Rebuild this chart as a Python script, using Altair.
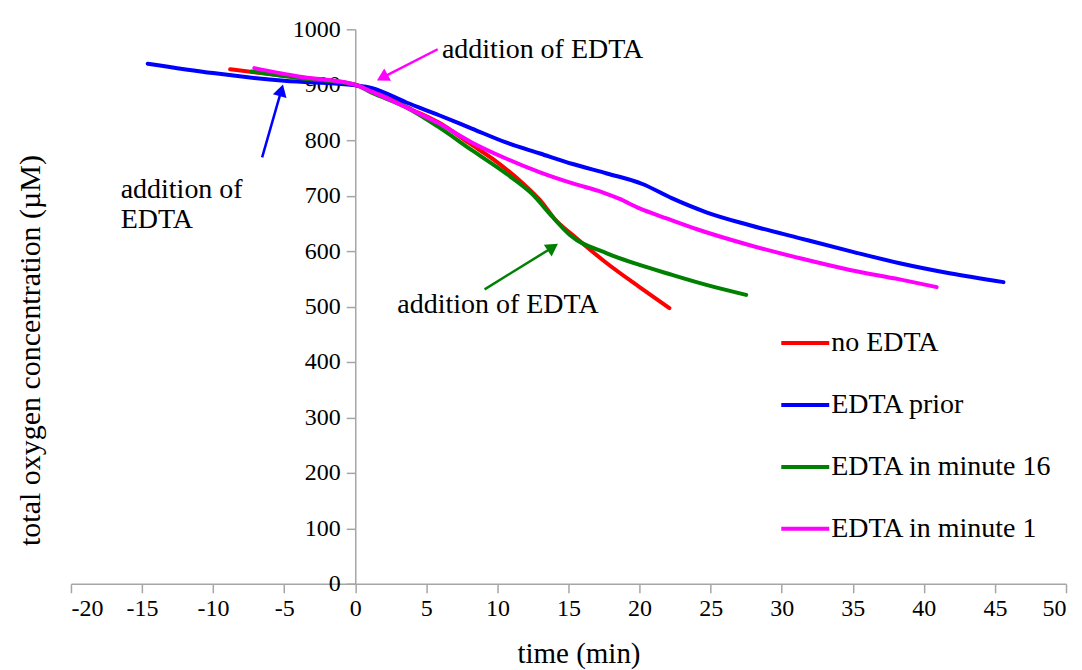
import altair as alt
import pandas as pd

# ---- data ----
series_names = ["no EDTA", "EDTA prior", "EDTA in minute 16", "EDTA in minute 1"]
series_colors = ["#FF0000", "#0000FF", "#008000", "#FF00FF"]

no_edta_x = [-8.8, -5, 0, 2, 4, 6, 8, 10, 11.8, 13, 14.1, 15.3, 17.7, 20, 22.1]
no_edta_y = [928, 916, 900, 879, 855, 830, 795, 760, 722, 692, 656, 629, 578, 535, 497]

prior_x = [-14.6, -10, -5, 0, 1.2, 3.6, 5.9, 8.2, 10.6, 13.0, 15.3, 17.7, 20.2, 22.3, 24.7,
           27.7, 31.3, 34.8, 38.3, 41.8, 45.6]
prior_y = [938, 921, 907, 899, 894, 868, 845, 821, 796, 776, 757, 740, 721, 695, 670,
           647, 623, 600, 578, 560, 544]

min16_x = [-7.3, -4, 0, 1.2, 3.6, 5.9, 8.2, 10.6, 12.4, 13.9, 15.1, 17.7, 20.0, 22.3, 24.7, 27.5]
min16_y = [924, 912, 900, 885, 859, 823, 782, 740, 704, 661, 629, 596, 575, 557, 539, 521]

min1_x = [-7.1, -4, 0, 1.2, 3.6, 5.9, 8.2, 10.6, 13.0, 15.3, 17.4, 18.6, 20.0, 21.9, 24.2,
          27.7, 31.3, 34.8, 38.3, 40.9]
min1_y = [930, 915, 900, 887, 859, 830, 796, 767, 742, 722, 706, 694, 677, 659, 638,
          611, 587, 566, 549, 535]

x_ticks = list(range(-20, 55, 5))
y_ticks = list(range(0, 1100, 100))

# annotation arrows (tail -> head, in data units)
arrow_x = [-6.55, 5.8, 9.1]
arrow_y = [769, 964, 531]
arrow_x2 = [-5.2, 1.9, 13.9]
arrow_y2 = [890, 913, 607]
arrow_angle = [15.6, 241.3, 56.3]
arrow_color = ["#0000FF", "#FF00FF", "#008000"]

note_text = ["addition of", "EDTA", "addition of EDTA", "addition of EDTA"]
note_x = [-16.5, -16.5, 6.1, 2.96]
note_y = [710, 656, 962, 503]

# ---- tables ----
rows = []
for name, xs, ys in [
    ("no EDTA", no_edta_x, no_edta_y),
    ("EDTA prior", prior_x, prior_y),
    ("EDTA in minute 16", min16_x, min16_y),
    ("EDTA in minute 1", min1_x, min1_y),
]:
    for i, (a, b) in enumerate(zip(xs, ys)):
        rows.append({"series": name, "t": a, "o2": b, "i": i})
lines_df = pd.DataFrame(rows)
arrows_df = pd.DataFrame({"x": arrow_x, "y": arrow_y, "x2": arrow_x2, "y2": arrow_y2,
                          "angle": arrow_angle, "color": arrow_color})
notes_df = pd.DataFrame({"text": note_text, "x": note_x, "y": note_y})

W, H = 996, 555
FONT = "Liberation Serif"

xscale = alt.Scale(domain=[-20, 50], nice=False, zero=False)
yscale = alt.Scale(domain=[0, 1000], nice=False)

x_axis = alt.Axis(values=x_ticks, title="time (min)", titleX=508, titleY=70,
                  titleBaseline="middle", titleFontSize=29, titleFontWeight="normal",
                  titleFont=FONT, titleColor="black",
                  labelFont=FONT, labelFontSize=24, labelColor="black",
                  labelExpr="'' + datum.value", labelPadding=4)
y_axis = alt.Axis(values=y_ticks, title="total oxygen concentration (µM)",
                  offset=-W * 20 / 70, titleX=-325, titleY=321, titleAngle=270,
                  titleBaseline="middle", titleFontSize=30, titleFontWeight="normal",
                  titleFont=FONT, titleColor="black",
                  labelFont=FONT, labelFontSize=24, labelColor="black",
                  labelExpr="'' + datum.value", labelPadding=6)

lines = alt.Chart(lines_df).mark_line(strokeWidth=4, interpolate="monotone",
                                      strokeCap="round", strokeJoin="round").encode(
    x=alt.X("t:Q", scale=xscale, axis=x_axis),
    y=alt.Y("o2:Q", scale=yscale, axis=y_axis),
    color=alt.Color("series:N",
                    scale=alt.Scale(domain=series_names, range=series_colors),
                    sort=series_names,
                    legend=alt.Legend(title=None, orient="none", legendX=709, legendY=288,
                                      symbolType="stroke", symbolSize=2304,
                                      symbolStrokeWidth=4, labelFont=FONT,
                                      labelFontSize=28, labelColor="black",
                                      labelOffset=0, rowPadding=22, padding=0,
                                      labelLimit=400)),
    order=alt.Order("i:Q"),
    detail="series:N",
)

rules = alt.Chart(arrows_df).mark_rule(strokeWidth=2.5).encode(
    x=alt.X("x:Q", scale=xscale),
    y=alt.Y("y:Q", scale=yscale),
    x2="x2:Q",
    y2="y2:Q",
    color=alt.Color("color:N", scale=None),
)

heads = alt.Chart(arrows_df).mark_point(shape="triangle-up", filled=True, size=200,
                                        opacity=1).encode(
    x=alt.X("x2:Q", scale=xscale),
    y=alt.Y("y2:Q", scale=yscale),
    angle=alt.Angle("angle:Q", scale=None),
    color=alt.Color("color:N", scale=None),
)

notes = alt.Chart(notes_df).mark_text(align="left", baseline="middle", font=FONT,
                                      fontSize=28, color="black").encode(
    x=alt.X("x:Q", scale=xscale),
    y=alt.Y("y:Q", scale=yscale),
    text="text:N",
)

chart = alt.layer(lines, rules, heads, notes).properties(
    width=W, height=H,
    autosize=alt.AutoSizeParams(type="none"),
    padding={"left": 63, "top": 21, "right": 8, "bottom": 85},
).configure_view(stroke=None).configure_axis(
    grid=False, domainColor="#A6A6A6", tickColor="#A6A6A6", tickSize=9,
    domainWidth=1.5, tickWidth=1.5,
    labelFont=FONT, labelFontSize=24, labelColor="black",
    titleFont=FONT, titleColor="black",
)

chart.save("out.html", embed_options={"renderer": "svg", "actions": False})
